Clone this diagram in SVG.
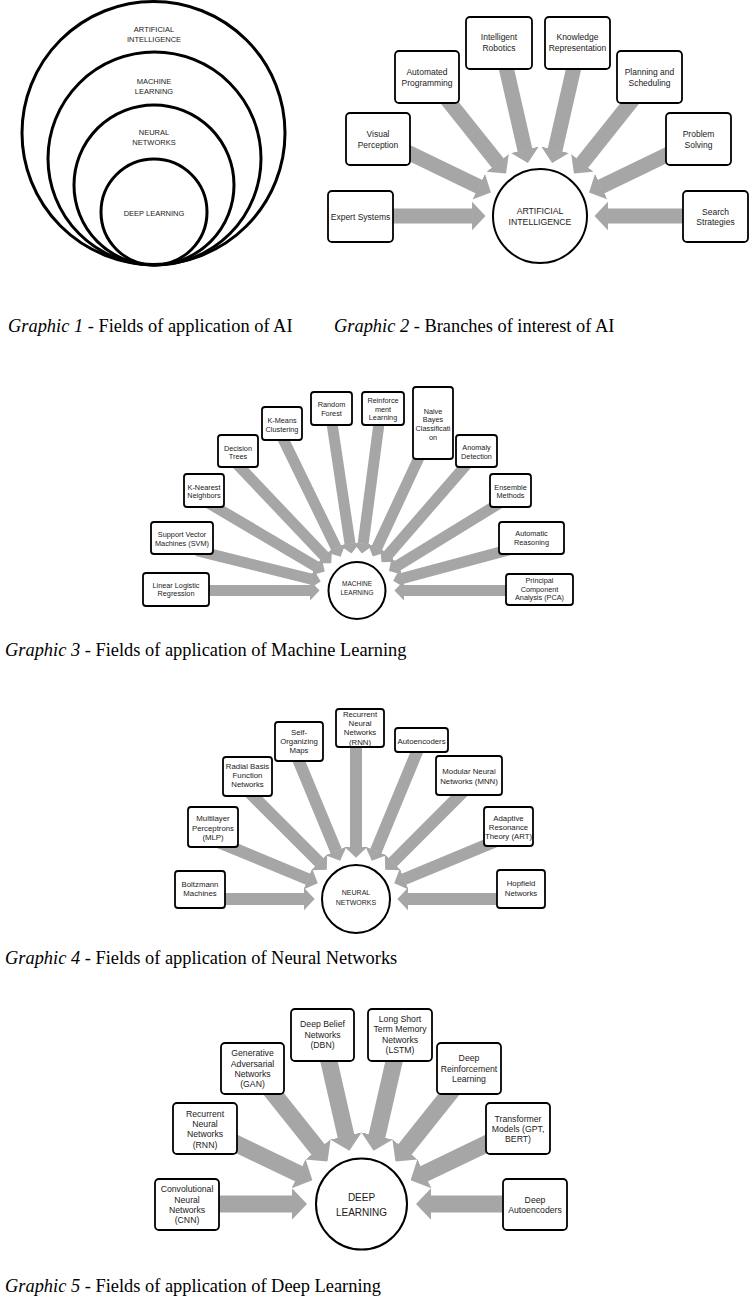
<svg xmlns="http://www.w3.org/2000/svg" width="750" height="1297" viewBox="0 0 750 1297">
<defs>
<style>
.ring{fill:none;stroke:#000;stroke-width:3}
.hub{fill:#fff;stroke:#000;stroke-width:2}
.box{fill:#fff;stroke:#000;stroke-width:1.8}
.arr line{stroke:#a6a6a6;fill:none;marker-end:url(#head)}
.t{font-family:'Liberation Sans',Arial,sans-serif;text-anchor:middle;fill:#1a1a1a}
.g1{font-size:7.5px}
.g2{font-size:8.5px}
.g3{font-size:7.3px}
.g4{font-size:7.8px}
.g5{font-size:8.7px}
.cap{font-family:'Liberation Serif','Times New Roman',serif;font-size:18.4px;fill:#000}
.it{font-style:italic}
</style>
<marker id="head" viewBox="0 0 9 20" refX="0.3" refY="10" markerWidth="0.9" markerHeight="2" orient="auto" markerUnits="strokeWidth">
<path d="M0,0.5 L9,10 L0,19.5 Z" fill="#a6a6a6"/>
</marker>
</defs>
<rect width="750" height="1297" fill="#fff"/>

<!-- Graphic 1 -->
<g id="g1-ai"><circle class="ring" cx="153.5" cy="133" r="131.5"/><text class="t g1" x="154" y="31.6">ARTIFICIAL</text><text class="t g1" x="154" y="41.6">INTELLIGENCE</text></g>
<g id="g1-ml"><circle class="ring" cx="154.5" cy="158.5" r="106.5"/><text class="t g1" x="154" y="83.6">MACHINE</text><text class="t g1" x="154" y="93.6">LEARNING</text></g>
<g id="g1-nn"><circle class="ring" cx="154" cy="185" r="80"/><text class="t g1" x="154" y="134.6">NEURAL</text><text class="t g1" x="154" y="144.6">NETWORKS</text></g>
<g id="g1-dl"><circle class="ring" cx="154" cy="212" r="53"/><text class="t g1" x="154" y="215.6">DEEP LEARNING</text></g>

<!-- Connectors -->
<g id="connectors" class="arr">
<g id="c2" transform="translate(540,216)" stroke-width="15">
<line x1="-160" y1="0" x2="-67.5" y2="0"/>
<line x1="-160" y1="0" x2="-67.5" y2="0" transform="rotate(25.714)"/>
<line x1="-160" y1="0" x2="-67.5" y2="0" transform="rotate(51.429)"/>
<line x1="-165" y1="0" x2="-67.5" y2="0" transform="rotate(77.143)"/>
<line x1="-165" y1="0" x2="-67.5" y2="0" transform="rotate(102.857)"/>
<line x1="-160" y1="0" x2="-67.5" y2="0" transform="rotate(128.571)"/>
<line x1="-160" y1="0" x2="-67.5" y2="0" transform="rotate(154.286)"/>
<line x1="-160" y1="0" x2="-67.5" y2="0" transform="rotate(180)"/>
</g>
<g id="c3" transform="translate(357,590.5)" stroke-width="11">
<line x1="-160" y1="0" x2="-47" y2="0"/>
<line x1="-165" y1="0" x2="-47" y2="0" transform="rotate(14)"/>
<line x1="-178" y1="0" x2="-47" y2="0" transform="rotate(30.5)"/>
<line x1="-182" y1="0" x2="-47" y2="0" transform="rotate(46.5)"/>
<line x1="-180" y1="0" x2="-47" y2="0" transform="rotate(64)"/>
<line x1="-180" y1="0" x2="-47" y2="0" transform="rotate(81.5)"/>
<line x1="-180" y1="0" x2="-47" y2="0" transform="rotate(97.5)"/>
<line x1="-160" y1="0" x2="-47" y2="0" transform="rotate(115)"/>
<line x1="-175" y1="0" x2="-47" y2="0" transform="rotate(131)"/>
<line x1="-172" y1="0" x2="-47" y2="0" transform="rotate(148.5)"/>
<line x1="-160" y1="0" x2="-47" y2="0" transform="rotate(165)"/>
<line x1="-160" y1="0" x2="-47" y2="0" transform="rotate(180)"/>
</g>
<g id="c4" transform="translate(356,899)" stroke-width="12">
<line x1="-160" y1="0" x2="-51.8" y2="0"/>
<line x1="-150" y1="0" x2="-51.8" y2="0" transform="rotate(22.5)"/>
<line x1="-160" y1="0" x2="-51.8" y2="0" transform="rotate(45)"/>
<line x1="-160" y1="0" x2="-51.8" y2="0" transform="rotate(67.5)"/>
<line x1="-165" y1="0" x2="-51.8" y2="0" transform="rotate(90)"/>
<line x1="-170" y1="0" x2="-51.8" y2="0" transform="rotate(112.5)"/>
<line x1="-160" y1="0" x2="-51.8" y2="0" transform="rotate(135)"/>
<line x1="-150" y1="0" x2="-51.8" y2="0" transform="rotate(157.5)"/>
<line x1="-160" y1="0" x2="-51.8" y2="0" transform="rotate(180)"/>
</g>
<g id="c5" transform="translate(361.5,1204)" stroke-width="17">
<line x1="-160" y1="0" x2="-69.3" y2="0"/>
<line x1="-155" y1="0" x2="-69.3" y2="0" transform="rotate(25.714)"/>
<line x1="-155" y1="0" x2="-69.3" y2="0" transform="rotate(51.429)"/>
<line x1="-160" y1="0" x2="-69.3" y2="0" transform="rotate(77.143)"/>
<line x1="-160" y1="0" x2="-69.3" y2="0" transform="rotate(102.857)"/>
<line x1="-155" y1="0" x2="-69.3" y2="0" transform="rotate(128.571)"/>
<line x1="-155" y1="0" x2="-69.3" y2="0" transform="rotate(154.286)"/>
<line x1="-160" y1="0" x2="-69.3" y2="0" transform="rotate(180)"/>
</g>
</g>

<!-- Graphic 2 nodes -->
<g id="g2-hub"><circle class="hub" cx="540" cy="216" r="47"/><text class="t" font-size="8.7" x="540" y="214">ARTIFICIAL</text><text class="t" font-size="8.7" x="540" y="225">INTELLIGENCE</text></g>
<g id="g2-expert"><rect class="box" x="328" y="191" width="65" height="51" rx="4"/><text class="t g2" x="360.5" y="220">Expert Systems</text></g>
<g id="g2-visual"><rect class="box" x="346" y="113" width="64" height="52" rx="4"/><text class="t g2" x="378" y="137">Visual</text><text class="t g2" x="378" y="148">Perception</text></g>
<g id="g2-auto"><rect class="box" x="395" y="51" width="64" height="52" rx="4"/><text class="t g2" x="427" y="75">Automated</text><text class="t g2" x="427" y="86">Programming</text></g>
<g id="g2-robot"><rect class="box" x="466" y="17" width="66" height="52" rx="4"/><text class="t g2" x="499" y="40">Intelligent</text><text class="t g2" x="499" y="51">Robotics</text></g>
<g id="g2-know"><rect class="box" x="545" y="17" width="65" height="52" rx="4"/><text class="t g2" x="577.5" y="40">Knowledge</text><text class="t g2" x="577.5" y="51">Representation</text></g>
<g id="g2-plan"><rect class="box" x="617" y="51" width="65" height="52" rx="4"/><text class="t g2" x="649.5" y="75">Planning and</text><text class="t g2" x="649.5" y="86">Scheduling</text></g>
<g id="g2-problem"><rect class="box" x="666" y="113" width="65" height="52" rx="4"/><text class="t g2" x="698.5" y="137">Problem</text><text class="t g2" x="698.5" y="148">Solving</text></g>
<g id="g2-search"><rect class="box" x="683" y="191" width="65" height="51" rx="4"/><text class="t g2" x="715.5" y="215">Search</text><text class="t g2" x="715.5" y="225">Strategies</text></g>

<!-- Graphic 3 nodes -->
<g id="g3-hub"><circle class="hub" cx="357" cy="590.5" r="28.5"/><text class="t" font-size="6.5" x="357" y="586.3">MACHINE</text><text class="t" font-size="6.5" x="357" y="595.3">LEARNING</text></g>
<g id="g3-llr"><rect class="box" x="143" y="573" width="66" height="33" rx="3"/><text class="t g3" x="176" y="587.6">Linear Logistic</text><text class="t g3" x="176" y="595.6">Regression</text></g>
<g id="g3-svm"><rect class="box" x="151" y="522" width="62" height="32" rx="3"/><text class="t g3" x="182" y="536.6">Support Vector</text><text class="t g3" x="182" y="545.6">Machines (SVM)</text></g>
<g id="g3-knn"><rect class="box" x="184" y="474" width="40" height="33" rx="3"/><text class="t g3" x="204" y="489.6">K-Nearest</text><text class="t g3" x="204" y="497.6">Neighbors</text></g>
<g id="g3-dt"><rect class="box" x="218" y="435" width="40" height="32" rx="3"/><text class="t g3" x="238" y="450.6">Decision</text><text class="t g3" x="238" y="458.6">Trees</text></g>
<g id="g3-km"><rect class="box" x="262" y="407" width="40" height="33" rx="3"/><text class="t g3" x="282" y="422.6">K-Means</text><text class="t g3" x="282" y="431.6">Clustering</text></g>
<g id="g3-rf"><rect class="box" x="311" y="392" width="41" height="33" rx="3"/><text class="t g3" x="331.5" y="406.6">Random</text><text class="t g3" x="331.5" y="415.6">Forest</text></g>
<g id="g3-rl"><rect class="box" x="362" y="392" width="42" height="33" rx="3"/><text class="t g3" x="383" y="402.6">Reinforce</text><text class="t g3" x="383" y="411.6">ment</text><text class="t g3" x="383" y="419.6">Learning</text></g>
<g id="g3-nb"><rect class="box" x="413" y="387" width="40" height="72" rx="3"/><text class="t g3" x="433" y="413.6">Naive</text><text class="t g3" x="433" y="421.6">Bayes</text><text class="t g3" x="433" y="430.6">Classificati</text><text class="t g3" x="433" y="439.6">on</text></g>
<g id="g3-ad"><rect class="box" x="456" y="435" width="41" height="32" rx="3"/><text class="t g3" x="476.5" y="449.6">Anomaly</text><text class="t g3" x="476.5" y="458.6">Detection</text></g>
<g id="g3-em"><rect class="box" x="490" y="474" width="41" height="33" rx="3"/><text class="t g3" x="510.5" y="489.6">Ensemble</text><text class="t g3" x="510.5" y="497.6">Methods</text></g>
<g id="g3-ar"><rect class="box" x="499" y="522" width="65" height="32" rx="3"/><text class="t g3" x="531.5" y="535.6">Automatic</text><text class="t g3" x="531.5" y="544.6">Reasoning</text></g>
<g id="g3-pca"><rect class="box" x="506" y="574" width="67" height="31" rx="3"/><text class="t g3" x="539.5" y="582.6">Principal</text><text class="t g3" x="539.5" y="591.6">Component</text><text class="t g3" x="539.5" y="599.6">Analysis (PCA)</text></g>

<!-- Graphic 4 nodes -->
<g id="g4-hub"><circle class="hub" cx="356" cy="899" r="34"/><text class="t" font-size="7" x="356" y="895.4">NEURAL</text><text class="t" font-size="7" x="356" y="905.4">NETWORKS</text></g>
<g id="g4-bm"><rect class="box" x="175" y="871" width="50" height="37" rx="3"/><text class="t g4" x="200" y="886.8">Boltzmann</text><text class="t g4" x="200" y="895.8">Machines</text></g>
<g id="g4-mlp"><rect class="box" x="188" y="807" width="50" height="40" rx="3"/><text class="t g4" x="213" y="820.8">Multilayer</text><text class="t g4" x="213" y="830.8">Perceptrons</text><text class="t g4" x="213" y="839.8">(MLP)</text></g>
<g id="g4-rbf"><rect class="box" x="223" y="757" width="49" height="39" rx="3"/><text class="t g4" x="247.5" y="768.8">Radial Basis</text><text class="t g4" x="247.5" y="777.8">Function</text><text class="t g4" x="247.5" y="786.8">Networks</text></g>
<g id="g4-som"><rect class="box" x="275" y="722" width="48" height="39" rx="3"/><text class="t g4" x="299" y="734.8">Self-</text><text class="t g4" x="299" y="743.8">Organizing</text><text class="t g4" x="299" y="752.8">Maps</text></g>
<g id="g4-rnn"><rect class="box" x="336" y="709" width="48" height="38" rx="3"/><text class="t g4" x="360" y="716.8">Recurrent</text><text class="t g4" x="360" y="725.8">Neural</text><text class="t g4" x="360" y="734.8">Networks</text><text class="t g4" x="360" y="744.8">(RNN)</text></g>
<g id="g4-ae"><rect class="box" x="395" y="728" width="53" height="24" rx="3"/><text class="t g4" x="421.5" y="743.8">Autoencoders</text></g>
<g id="g4-mnn"><rect class="box" x="436" y="756" width="66" height="39" rx="3"/><text class="t g4" x="469" y="773.8">Modular Neural</text><text class="t g4" x="469" y="783.8">Networks (MNN)</text></g>
<g id="g4-art"><rect class="box" x="484" y="807" width="49" height="39" rx="3"/><text class="t g4" x="508.5" y="820.8">Adaptive</text><text class="t g4" x="508.5" y="829.8">Resonance</text><text class="t g4" x="508.5" y="838.8">Theory (ART)</text></g>
<g id="g4-hop"><rect class="box" x="497" y="870" width="48" height="38" rx="3"/><text class="t g4" x="521" y="885.8">Hopfield</text><text class="t g4" x="521" y="895.8">Networks</text></g>

<!-- Graphic 5 nodes -->
<g id="g5-hub"><circle class="hub" cx="361.5" cy="1204" r="45.5"/><text class="t" font-size="10" x="361.5" y="1200.5">DEEP</text><text class="t" font-size="10" x="361.5" y="1215.5">LEARNING</text></g>
<g id="g5-cnn"><rect class="box" x="155" y="1179" width="64" height="51" rx="4"/><text class="t g5" x="187" y="1192.1">Convolutional</text><text class="t g5" x="187" y="1203.1">Neural</text><text class="t g5" x="187" y="1213.1">Networks</text><text class="t g5" x="187" y="1223.1">(CNN)</text></g>
<g id="g5-rnn"><rect class="box" x="173" y="1103" width="64" height="51" rx="4"/><text class="t g5" x="205" y="1117.1">Recurrent</text><text class="t g5" x="205" y="1127.1">Neural</text><text class="t g5" x="205" y="1137.1">Networks</text><text class="t g5" x="205" y="1148.1">(RNN)</text></g>
<g id="g5-gan"><rect class="box" x="221" y="1043" width="63" height="51" rx="4"/><text class="t g5" x="252.5" y="1056.1">Generative</text><text class="t g5" x="252.5" y="1067.1">Adversarial</text><text class="t g5" x="252.5" y="1077.1">Networks</text><text class="t g5" x="252.5" y="1087.1">(GAN)</text></g>
<g id="g5-dbn"><rect class="box" x="291" y="1009" width="63" height="52" rx="4"/><text class="t g5" x="322.5" y="1027.1">Deep Belief</text><text class="t g5" x="322.5" y="1038.1">Networks</text><text class="t g5" x="322.5" y="1048.1">(DBN)</text></g>
<g id="g5-lstm"><rect class="box" x="368" y="1009" width="64" height="52" rx="4"/><text class="t g5" x="400" y="1022.1">Long Short</text><text class="t g5" x="400" y="1032.1">Term Memory</text><text class="t g5" x="400" y="1043.1">Networks</text><text class="t g5" x="400" y="1053.1">(LSTM)</text></g>
<g id="g5-drl"><rect class="box" x="437" y="1043" width="64" height="51" rx="4"/><text class="t g5" x="469" y="1061.1">Deep</text><text class="t g5" x="469" y="1072.1">Reinforcement</text><text class="t g5" x="469" y="1082.1">Learning</text></g>
<g id="g5-tr"><rect class="box" x="486" y="1103" width="64" height="51" rx="4"/><text class="t g5" x="518" y="1122.1">Transformer</text><text class="t g5" x="518" y="1132.1">Models (GPT,</text><text class="t g5" x="518" y="1142.1">BERT)</text></g>
<g id="g5-dae"><rect class="box" x="503" y="1179" width="64" height="51" rx="4"/><text class="t g5" x="535" y="1203.1">Deep</text><text class="t g5" x="535" y="1213.1">Autoencoders</text></g>

<!-- Captions -->
<text class="cap" x="8" y="332"><tspan class="it">Graphic 1</tspan> - Fields of application of AI</text>
<text class="cap" x="334" y="332"><tspan class="it">Graphic 2</tspan> - Branches of interest of AI</text>
<text class="cap" x="5" y="656"><tspan class="it">Graphic 3</tspan> - Fields of application of Machine Learning</text>
<text class="cap" x="5" y="964"><tspan class="it">Graphic 4</tspan> - Fields of application of Neural Networks</text>
<text class="cap" x="5" y="1292"><tspan class="it">Graphic 5</tspan> - Fields of application of Deep Learning</text>
</svg>
